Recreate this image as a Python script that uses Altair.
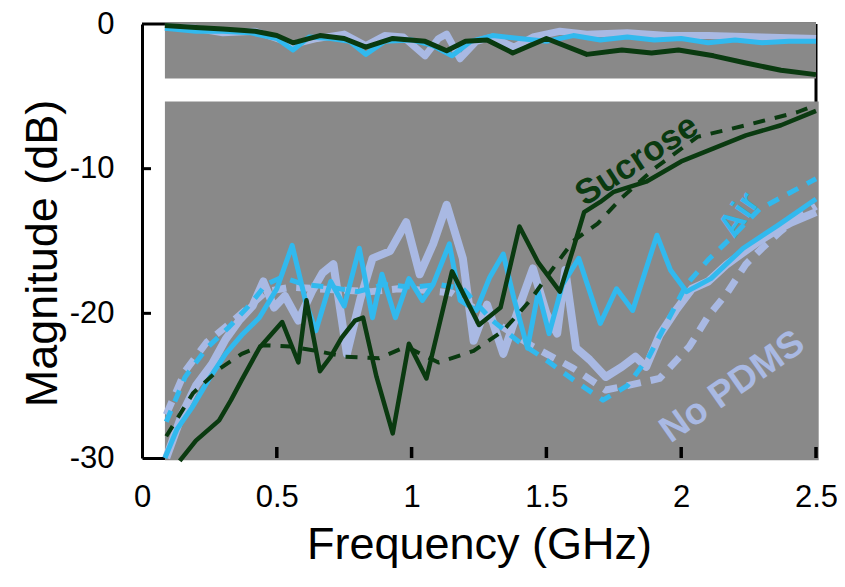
import altair as alt
import pandas as pd

# ---------------- data ----------------
# Lower group (reflection-like curves)
nopdms_solid_f = [0.09,0.15,0.2,0.26,0.31,0.36,0.41,0.45,0.49,0.53,0.58,0.63,0.67,0.71,0.76,0.81,0.855,0.92,0.98,1.03,1.08,1.13,1.19,1.23,1.28,1.34,1.40,1.45,1.50,1.54,1.57,1.61,1.66,1.72,1.78,1.83,1.87,1.92,1.98,2.04,2.10,2.17,2.23,2.29,2.35,2.41,2.5]
nopdms_solid_m = [-30,-26.9,-25,-23.5,-21.8,-20.5,-19.5,-17.8,-19.6,-18.8,-20.5,-18.5,-17.2,-16.6,-22.8,-19,-16.2,-15.7,-13.7,-17.3,-15.2,-12.5,-16.2,-21.9,-19.4,-22.8,-19.5,-16.9,-20,-21.4,-17.0,-22.4,-23.2,-24.4,-23.7,-23.0,-23.7,-21.5,-19.8,-18.3,-17.8,-16.6,-15.8,-15.0,-14.3,-13.7,-13.0]

nopdms_dash_f = [0.09,0.16,0.24,0.32,0.40,0.46,0.55,0.65,0.75,0.85,0.95,1.05,1.15,1.3,1.45,1.6,1.72,1.80,1.92,2.03,2.10,2.17,2.24,2.30,2.37,2.44,2.5]
nopdms_dash_m = [-27,-24,-22,-20.8,-19.5,-18.5,-18.2,-18.3,-18.4,-18.5,-18.3,-18.4,-18.6,-20.5,-22.3,-23.8,-25.3,-25,-24.5,-22.3,-20.2,-18.6,-16.6,-15.5,-14.3,-13.3,-12.6]

air_solid_f = [0.085,0.13,0.186,0.25,0.31,0.37,0.435,0.50,0.557,0.61,0.645,0.70,0.75,0.806,0.855,0.89,0.94,0.99,1.04,1.08,1.14,1.18,1.24,1.29,1.34,1.38,1.43,1.47,1.51,1.56,1.62,1.70,1.76,1.82,1.91,1.96,2.02,2.11,2.23,2.36,2.5]
air_solid_m = [-30,-28,-26.5,-24.5,-22.8,-21.5,-20.3,-18.3,-15.3,-19.4,-21.2,-17.8,-19.5,-15.5,-20.3,-17.3,-20.3,-17.6,-19.1,-18.0,-15.2,-19.1,-19.8,-17.5,-15.9,-19,-22.4,-18.5,-21.4,-18,-16.2,-20.7,-18.3,-19.8,-14.6,-17,-18.5,-17.6,-15.5,-13.9,-12.1]

air_dash_f = [0.09,0.16,0.24,0.32,0.40,0.46,0.52,0.6,0.7,0.8,0.9,1.0,1.1,1.19,1.3,1.4,1.49,1.6,1.71,1.8,1.88,1.95,2.02,2.1,2.2,2.29,2.39,2.5]
air_dash_m = [-27.5,-24.4,-22.4,-21.0,-19.4,-18.0,-17.5,-18.0,-18.2,-18.5,-18.0,-18.2,-18.0,-18.3,-20.5,-22,-23.1,-24.6,-26.0,-25,-23,-20.5,-18.0,-16.3,-14.5,-12.8,-11.8,-10.7]

sucrose_solid_f = [0.14,0.2,0.286,0.33,0.37,0.435,0.52,0.58,0.61,0.66,0.70,0.74,0.79,0.82,0.87,0.93,0.99,1.055,1.10,1.15,1.25,1.33,1.40,1.47,1.55,1.60,1.64,1.70,1.75,1.87,2.0,2.12,2.24,2.37,2.5]
sucrose_solid_m = [-30.2,-28.8,-27.4,-26,-24.6,-22.4,-20.6,-23.4,-19.1,-24.0,-23.0,-21.7,-20.5,-20.3,-24.4,-28.3,-22.1,-24.5,-21,-17.1,-20.8,-19.6,-14.0,-16.5,-18.5,-15.5,-13.0,-12.3,-11.6,-10.9,-9.5,-8.6,-7.7,-7.0,-6.0]

sucrose_dash_f = [0.09,0.19,0.29,0.37,0.45,0.55,0.65,0.75,0.88,0.98,1.10,1.23,1.34,1.44,1.52,1.60,1.69,1.78,1.90,2.06,2.24,2.43,2.5]
sucrose_dash_m = [-28.5,-25.5,-23.8,-22.8,-22.2,-22.3,-22.6,-23,-23.1,-22.3,-23.4,-22.6,-21.2,-19.1,-17,-15,-13.8,-12,-10.0,-7.8,-7.0,-6.1,-5.6]

# Upper group (transmission-like curves near 0 dB)
top_nopdms_f = [0.085,0.2,0.3,0.42,0.5,0.56,0.65,0.75,0.83,0.9,0.97,1.05,1.1,1.13,1.18,1.24,1.3,1.38,1.45,1.55,1.65,1.8,1.95,2.1,2.3,2.5]
top_nopdms_m = [-0.2,-0.3,-0.6,-0.5,-1.0,-1.4,-1.0,-0.7,-1.5,-0.8,-0.9,-2.2,-1.0,-0.7,-2.4,-1.2,-0.9,-1.6,-0.9,-0.5,-0.7,-0.6,-0.8,-0.8,-0.9,-1.0]
top_air_f = [0.085,0.2,0.3,0.4,0.5,0.56,0.62,0.7,0.77,0.83,0.9,1.0,1.08,1.15,1.22,1.3,1.4,1.5,1.6,1.7,1.8,1.9,2.0,2.1,2.2,2.3,2.4,2.5]
top_air_m = [-0.3,-0.5,-0.5,-0.6,-1.0,-1.8,-0.9,-1.0,-1.2,-2.1,-1.2,-1.1,-1.5,-2.2,-1.2,-0.8,-1.0,-1.2,-0.8,-1.1,-0.9,-1.1,-1.0,-1.3,-1.1,-1.3,-1.2,-1.2]
top_sucrose_f = [0.085,0.2,0.3,0.42,0.5,0.56,0.66,0.75,0.83,0.93,1.05,1.13,1.2,1.28,1.375,1.50,1.65,1.78,1.89,1.99,2.12,2.24,2.37,2.5]
top_sucrose_m = [-0.1,-0.25,-0.35,-0.5,-0.8,-1.3,-0.8,-1.0,-1.6,-1.0,-1.2,-1.85,-1.2,-1.1,-2.0,-1.0,-2.1,-1.8,-2.0,-1.8,-2.2,-2.7,-3.2,-3.5]

# gray panels behind the curves
panel_x0 = [0.085, 0.085]
panel_x1 = [2.5, 2.51]
panel_top = [0.1, -5.35]
panel_bottom = [-3.77, -30.15]

# curve labels
label_text = ["Sucrose", "Air", "No PDMS"]
label_f = [1.835, 2.215, 2.19]
label_m = [-9.4, -13.2, -25.1]

x_ticks = [0, 0.5, 1, 1.5, 2, 2.5]
y_ticks = [-30, -20, -10, 0]

# ---------------- styling ----------------
GRAY = "#898989"
LAV = "#A9B9E3"
CYAN = "#31B9EE"
GREEN = "#0A3A10"

PLOT_H = 434

xs = alt.Scale(domain=[0, 2.5], nice=False, zero=False)
ys = alt.Scale(domain=[-30, 0], nice=False, zero=False)

x_axis = alt.Axis(values=x_ticks, labelExpr="'' + datum.value", title="Frequency (GHz)", grid=False,
                  ticks=False, domain=True, domainColor="black", domainWidth=3, labelFlush=False,
                  labelFont="Liberation Sans", labelFontSize=31, labelColor="black",
                  labelPadding=24, titleFont="Liberation Sans", titleFontSize=45,
                  titleFontWeight="normal", titleColor="black", titlePadding=10)
y_axis = alt.Axis(values=y_ticks, labelExpr="'' + datum.value", title="Magnitude (dB)", grid=False, ticks=False,
                  domain=True, domainColor="black", domainWidth=3, labelFlush=False,
                  labelFont="Liberation Sans", labelFontSize=31, labelColor="black",
                  labelPadding=28, titleFont="Liberation Sans", titleFontSize=45,
                  titleFontWeight="normal", titleColor="black", titlePadding=4, titleY=229)

# base layer carries the axes
base = alt.Chart(pd.DataFrame({"f": [0.0], "m": [0.0]})).mark_point(opacity=0).encode(
    x=alt.X("f:Q", scale=xs, axis=x_axis),
    y=alt.Y("m:Q", scale=ys, axis=y_axis),
)

top_rule = alt.Chart(pd.DataFrame({"m": [0]})).mark_rule(color="black", strokeWidth=3).encode(
    y=alt.Y("m:Q", scale=ys))
right_rule = alt.Chart(pd.DataFrame({"f": [2.5]})).mark_rule(color="black", strokeWidth=3).encode(
    x=alt.X("f:Q", scale=xs))

panels = alt.Chart(pd.DataFrame({"x0": panel_x0, "x1": panel_x1, "t": panel_top, "b": panel_bottom})).mark_rect(
    color=GRAY).encode(
    x=alt.X("x0:Q", scale=xs), x2="x1:Q", y=alt.Y("t:Q", scale=ys), y2="b:Q")


def curve(f, m, color, width, dash=None):
    df = pd.DataFrame({"f": f, "m": m})
    kw = dict(color=color, strokeWidth=width, strokeJoin="round", strokeCap="butt")
    if dash:
        kw["strokeDash"] = dash
    return alt.Chart(df).mark_line(**kw).encode(
        x=alt.X("f:Q", scale=xs), y=alt.Y("m:Q", scale=ys))


lines = [
    curve(top_nopdms_f, top_nopdms_m, LAV, 7),
    curve(top_air_f, top_air_m, CYAN, 5),
    curve(top_sucrose_f, top_sucrose_m, GREEN, 5),
    curve(nopdms_dash_f, nopdms_dash_m, LAV, 7, [14, 10]),
    curve(nopdms_solid_f, nopdms_solid_m, LAV, 8),
    curve(air_dash_f, air_dash_m, CYAN, 5, [12, 10]),
    curve(air_solid_f, air_solid_m, CYAN, 5),
    curve(sucrose_dash_f, sucrose_dash_m, GREEN, 4, [12, 10]),
    curve(sucrose_solid_f, sucrose_solid_m, GREEN, 4.5),
]

bottom_ticks = alt.Chart(pd.DataFrame({"f": x_ticks[1:]})).mark_rule(color="black", strokeWidth=3.5).encode(
    x=alt.X("f:Q", scale=xs), y=alt.value(PLOT_H - 11), y2=alt.value(PLOT_H))
left_ticks = alt.Chart(pd.DataFrame({"m": [-10, -20]})).mark_rule(color="black", strokeWidth=3).encode(
    y=alt.Y("m:Q", scale=ys), x=alt.value(0), x2=alt.value(9))

lab_df = pd.DataFrame({"t": label_text, "f": label_f, "m": label_m})
label_angles = {"Sucrose": 327, "Air": 305, "No PDMS": 325}
label_sizes = {"Sucrose": 35, "Air": 33, "No PDMS": 37}
label_colors = {"Sucrose": GREEN, "Air": CYAN, "No PDMS": LAV}
labels = []
for t in label_text:
    labels.append(
        alt.Chart(lab_df[lab_df.t == t]).mark_text(
            font="Liberation Sans", fontWeight="bold", fontSize=label_sizes[t], angle=label_angles[t],
            color=label_colors[t], align="center", baseline="middle").encode(
            x=alt.X("f:Q", scale=xs), y=alt.Y("m:Q", scale=ys), text="t:N"))

chart = alt.layer(base, top_rule, right_rule, panels, *lines, bottom_ticks, left_ticks, *labels).properties(
    width=674, height=PLOT_H,
    autosize=alt.AutoSizeParams(type="none"),
    padding={"left": 134, "top": 16, "right": 21, "bottom": 121},
).configure_view(stroke=None).configure(background="white")

chart.save("out.html", embed_options={"renderer": "svg", "actions": False})
